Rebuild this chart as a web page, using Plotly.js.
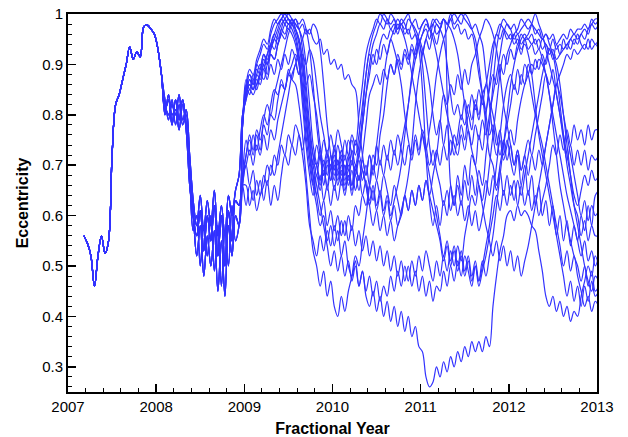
<!DOCTYPE html>
<html><head><meta charset="utf-8">
<script src="https://cdn.plot.ly/plotly-3.0.1.min.js"></script>
<style>html,body{margin:0;padding:0;background:#fff}</style>
</head><body><div id="chart" style="width:628px;height:437px"></div>
<script>
// sampling: start year and step (years)
const startYear = 2007.18, stepYear = 0.04;
const yTickVals = [0.3,0.4,0.5,0.6,0.7,0.8,0.9,1];
const yTickText = ["0.3","0.4","0.5","0.6","0.7","0.8","0.9","1"];
const xTickVals = [2007,2008,2009,2010,2011,2012,2013];

// shared early part 2007.18 .. 2008.06
const commonEarly = [0.56,0.545,0.52,0.46,0.52,0.56,0.525,0.55,0.72,0.82,0.84,0.87,0.90,0.935,0.91,0.925,0.915,0.975,0.978,0.97,0.96,0.93,0.88];
// 2008.10 .. 2008.98 variants
const midA = [0.81,0.83,0.78,0.83,0.79,0.83,0.78,0.70,0.60,0.56,0.61,0.53,0.60,0.55,0.62,0.52,0.60,0.50,0.61,0.55,0.63,0.62,0.78];
const midB = [0.83,0.79,0.83,0.78,0.82,0.78,0.80,0.68,0.57,0.60,0.50,0.58,0.52,0.60,0.49,0.58,0.46,0.57,0.50,0.62,0.55,0.58,0.68];
const midC = [0.80,0.84,0.80,0.81,0.77,0.82,0.77,0.66,0.60,0.52,0.58,0.48,0.56,0.50,0.57,0.45,0.55,0.44,0.58,0.52,0.60,0.58,0.66];
const midD = [0.82,0.80,0.82,0.80,0.84,0.79,0.81,0.72,0.63,0.58,0.64,0.57,0.63,0.58,0.65,0.56,0.62,0.56,0.64,0.60,0.65,0.68,0.80];
// 2009.02 .. 2013.02
const late1 = [0.84,0.86,0.85,0.88,0.87,0.90,0.88,0.92,0.91,0.94,0.96,0.98,0.99,0.98,0.97,0.95,0.90,0.82,0.76,0.72,0.70,0.73,0.68,0.72,0.69,0.74,0.70,0.73,0.68,0.72,0.70,0.75,0.72,0.78,0.84,0.90,0.94,0.96,0.98,0.97,0.99,0.97,0.98,0.96,0.98,0.97,0.99,0.98,0.96,0.93,0.85,0.72,0.63,0.58,0.62,0.58,0.63,0.60,0.66,0.62,0.68,0.64,0.70,0.66,0.72,0.70,0.76,0.73,0.80,0.86,0.92,0.96,0.95,0.97,0.96,0.95,0.96,0.94,0.96,0.95,0.95,0.94,0.95,0.93,0.95,0.94,0.93,0.95,0.93,0.94,0.93,0.94,0.93,0.95,0.94,0.96,0.95,0.97,0.98,0.99,0.99];
const late2 = [0.83,0.87,0.86,0.89,0.88,0.91,0.90,0.93,0.95,0.94,0.97,0.99,0.98,0.99,0.98,0.97,0.98,0.96,0.97,0.95,0.94,0.95,0.92,0.93,0.90,0.91,0.89,0.90,0.87,0.88,0.86,0.85,0.78,0.72,0.68,0.72,0.68,0.74,0.80,0.87,0.92,0.95,0.97,0.99,0.98,0.99,1.00,0.98,0.99,0.97,0.98,0.99,0.97,0.98,0.96,0.97,0.99,0.98,0.99,0.97,0.98,0.96,0.97,0.95,0.96,0.93,0.88,0.84,0.80,0.76,0.78,0.74,0.77,0.72,0.75,0.71,0.68,0.72,0.66,0.70,0.64,0.68,0.62,0.66,0.60,0.63,0.58,0.62,0.56,0.60,0.55,0.59,0.54,0.58,0.55,0.60,0.57,0.62,0.58,0.64,0.65];
const late3 = [0.72,0.75,0.72,0.76,0.73,0.78,0.76,0.80,0.79,0.83,0.86,0.85,0.88,0.87,0.86,0.82,0.76,0.68,0.60,0.53,0.50,0.46,0.49,0.44,0.47,0.42,0.40,0.44,0.41,0.45,0.48,0.52,0.50,0.55,0.60,0.66,0.72,0.70,0.76,0.80,0.86,0.90,0.88,0.92,0.90,0.93,0.91,0.94,0.92,0.95,0.93,0.90,0.86,0.80,0.76,0.79,0.74,0.78,0.72,0.76,0.74,0.78,0.75,0.80,0.77,0.82,0.79,0.84,0.86,0.90,0.94,0.96,0.98,0.97,0.95,0.96,0.94,0.95,0.93,0.94,0.92,0.88,0.82,0.76,0.72,0.68,0.64,0.60,0.56,0.52,0.48,0.44,0.47,0.43,0.46,0.42,0.46,0.43,0.47,0.44,0.45];
const late4 = [0.70,0.73,0.70,0.74,0.72,0.76,0.73,0.77,0.75,0.79,0.82,0.85,0.88,0.90,0.92,0.90,0.86,0.80,0.72,0.66,0.62,0.58,0.60,0.55,0.58,0.54,0.57,0.52,0.55,0.50,0.48,0.51,0.46,0.49,0.44,0.42,0.45,0.41,0.44,0.40,0.43,0.39,0.42,0.38,0.41,0.37,0.40,0.36,0.38,0.34,0.33,0.28,0.26,0.27,0.30,0.28,0.31,0.29,0.32,0.30,0.33,0.31,0.34,0.32,0.35,0.33,0.35,0.33,0.36,0.34,0.42,0.48,0.53,0.56,0.60,0.61,0.59,0.62,0.60,0.61,0.60,0.58,0.57,0.53,0.49,0.44,0.42,0.44,0.41,0.43,0.40,0.42,0.39,0.41,0.40,0.44,0.47,0.50,0.48,0.52,0.50];
const late5 = [0.66,0.62,0.65,0.61,0.64,0.66,0.70,0.68,0.72,0.70,0.74,0.72,0.76,0.74,0.78,0.76,0.72,0.66,0.58,0.55,0.52,0.56,0.53,0.57,0.54,0.58,0.55,0.59,0.56,0.60,0.57,0.62,0.60,0.64,0.62,0.66,0.63,0.67,0.64,0.68,0.65,0.62,0.66,0.63,0.60,0.64,0.61,0.65,0.62,0.66,0.63,0.67,0.64,0.68,0.72,0.78,0.84,0.82,0.86,0.84,0.88,0.85,0.89,0.86,0.90,0.92,0.95,0.97,0.99,0.98,0.96,0.93,0.88,0.82,0.78,0.74,0.70,0.73,0.69,0.72,0.68,0.72,0.69,0.73,0.70,0.74,0.78,0.82,0.86,0.88,0.90,0.92,0.91,0.93,0.92,0.93,0.94,0.93,0.95,0.94,0.95];
const late6 = [0.86,0.84,0.87,0.85,0.88,0.90,0.92,0.94,0.93,0.96,0.98,0.99,1.00,0.99,0.98,0.97,0.93,0.86,0.78,0.72,0.68,0.72,0.66,0.70,0.67,0.71,0.67,0.70,0.66,0.69,0.66,0.70,0.67,0.71,0.68,0.72,0.69,0.74,0.70,0.74,0.71,0.75,0.72,0.76,0.73,0.70,0.74,0.71,0.75,0.72,0.76,0.73,0.77,0.82,0.88,0.92,0.95,0.97,0.99,1.00,0.99,0.98,1.00,0.99,0.97,0.95,0.90,0.84,0.78,0.72,0.70,0.66,0.69,0.64,0.68,0.64,0.67,0.62,0.66,0.62,0.65,0.61,0.64,0.60,0.63,0.66,0.70,0.74,0.72,0.76,0.73,0.77,0.74,0.78,0.75,0.77,0.74,0.78,0.75,0.77,0.77];
const late7 = [0.85,0.88,0.86,0.90,0.89,0.92,0.91,0.94,0.96,0.95,0.97,0.96,0.98,0.97,0.95,0.91,0.84,0.76,0.70,0.66,0.70,0.67,0.71,0.68,0.72,0.69,0.74,0.71,0.75,0.72,0.76,0.74,0.80,0.86,0.92,0.95,0.97,0.99,0.98,1.00,0.99,0.98,0.99,0.97,0.98,0.96,0.97,0.95,0.96,0.94,0.96,0.97,0.95,0.98,0.99,0.98,0.99,0.84,0.66,0.62,0.66,0.62,0.67,0.63,0.68,0.64,0.69,0.66,0.72,0.78,0.86,0.93,0.97,0.99,0.98,0.97,0.98,0.96,0.97,0.98,0.99,0.98,0.97,0.96,0.95,0.96,0.95,0.96,0.94,0.95,0.96,0.95,0.97,0.96,0.97,0.97,0.98,0.97,0.99,0.98,0.99];
const late8 = [0.84,0.86,0.85,0.87,0.86,0.89,0.87,0.90,0.88,0.91,0.89,0.92,0.90,0.93,0.91,0.88,0.90,0.86,0.88,0.84,0.80,0.74,0.70,0.73,0.69,0.72,0.68,0.71,0.67,0.70,0.66,0.70,0.67,0.72,0.78,0.84,0.86,0.88,0.86,0.89,0.87,0.90,0.88,0.91,0.89,0.92,0.90,0.93,0.91,0.94,0.92,0.95,0.93,0.96,0.94,0.97,0.99,0.98,1.00,0.98,0.99,1.00,0.99,0.98,0.97,0.98,0.96,0.94,0.88,0.82,0.76,0.72,0.75,0.71,0.74,0.77,0.74,0.79,0.83,0.86,0.88,0.90,0.89,0.91,0.90,0.88,0.84,0.78,0.72,0.66,0.62,0.58,0.55,0.52,0.50,0.47,0.50,0.46,0.49,0.45,0.46];
const late9 = [0.70,0.66,0.69,0.64,0.67,0.63,0.67,0.62,0.66,0.63,0.68,0.72,0.70,0.74,0.72,0.76,0.73,0.77,0.74,0.70,0.66,0.62,0.58,0.54,0.50,0.53,0.49,0.52,0.48,0.51,0.47,0.50,0.46,0.49,0.45,0.48,0.44,0.47,0.43,0.46,0.44,0.48,0.45,0.49,0.46,0.50,0.47,0.51,0.48,0.52,0.49,0.53,0.50,0.47,0.51,0.48,0.52,0.49,0.53,0.50,0.54,0.51,0.56,0.60,0.64,0.62,0.66,0.63,0.67,0.64,0.68,0.65,0.70,0.74,0.78,0.82,0.86,0.84,0.88,0.86,0.90,0.88,0.91,0.89,0.92,0.90,0.93,0.91,0.94,0.92,0.95,0.93,0.95,0.94,0.96,0.94,0.93,0.95,0.93,0.94,0.93];
const late10 = [0.87,0.85,0.88,0.86,0.89,0.92,0.90,0.93,0.95,0.97,0.99,1.00,0.99,0.98,0.96,0.92,0.85,0.78,0.72,0.68,0.64,0.68,0.63,0.66,0.62,0.66,0.63,0.67,0.64,0.68,0.65,0.69,0.72,0.80,0.88,0.93,0.96,0.98,1.00,0.99,0.98,1.00,0.99,0.97,0.99,0.98,0.96,0.98,0.97,0.95,0.90,0.82,0.74,0.70,0.73,0.70,0.74,0.71,0.75,0.72,0.76,0.80,0.78,0.82,0.79,0.83,0.80,0.84,0.81,0.85,0.88,0.86,0.90,0.88,0.92,0.94,0.96,0.97,0.99,0.98,0.97,0.98,0.96,0.97,0.95,0.96,0.94,0.92,0.88,0.82,0.76,0.70,0.66,0.62,0.60,0.56,0.59,0.55,0.58,0.56,0.56];
const late11 = [0.84,0.87,0.85,0.88,0.90,0.89,0.92,0.94,0.96,0.98,0.99,0.98,0.97,0.99,0.97,0.94,0.88,0.80,0.74,0.70,0.74,0.71,0.75,0.72,0.76,0.73,0.77,0.74,0.71,0.75,0.72,0.68,0.71,0.67,0.70,0.66,0.70,0.67,0.71,0.68,0.72,0.69,0.73,0.70,0.74,0.78,0.82,0.87,0.91,0.94,0.96,0.98,0.97,0.99,0.98,0.97,0.95,0.90,0.84,0.80,0.82,0.79,0.83,0.80,0.84,0.81,0.85,0.82,0.86,0.83,0.80,0.76,0.72,0.75,0.71,0.74,0.70,0.73,0.69,0.72,0.75,0.72,0.76,0.80,0.84,0.88,0.86,0.89,0.84,0.80,0.75,0.71,0.74,0.70,0.73,0.70,0.73,0.69,0.72,0.71,0.72];
const late12 = [0.72,0.76,0.73,0.77,0.75,0.79,0.82,0.80,0.84,0.87,0.90,0.93,0.96,0.98,0.99,0.98,0.99,0.97,0.93,0.86,0.78,0.72,0.68,0.71,0.67,0.70,0.66,0.69,0.65,0.68,0.64,0.68,0.65,0.69,0.66,0.62,0.65,0.61,0.64,0.60,0.63,0.59,0.62,0.58,0.61,0.64,0.68,0.74,0.82,0.88,0.92,0.95,0.97,0.96,0.98,0.97,0.99,0.98,0.97,0.95,0.92,0.87,0.82,0.77,0.73,0.70,0.66,0.62,0.58,0.55,0.52,0.55,0.51,0.54,0.50,0.53,0.49,0.52,0.48,0.51,0.54,0.58,0.62,0.66,0.70,0.74,0.78,0.82,0.86,0.84,0.80,0.76,0.72,0.68,0.64,0.60,0.63,0.59,0.62,0.60,0.61];
const late13 = [0.85,0.88,0.87,0.90,0.92,0.94,0.93,0.96,0.98,0.99,1.00,0.99,0.98,0.99,0.97,0.95,0.91,0.84,0.76,0.68,0.64,0.60,0.63,0.58,0.61,0.57,0.60,0.56,0.59,0.55,0.58,0.54,0.57,0.53,0.56,0.52,0.55,0.51,0.54,0.50,0.53,0.49,0.52,0.48,0.51,0.47,0.50,0.46,0.49,0.45,0.48,0.44,0.47,0.43,0.46,0.45,0.49,0.46,0.50,0.47,0.51,0.48,0.52,0.49,0.46,0.50,0.47,0.51,0.48,0.52,0.56,0.62,0.68,0.74,0.80,0.86,0.90,0.93,0.95,0.96,0.95,0.96,0.94,0.95,0.93,0.94,0.92,0.93,0.91,0.92,0.93,0.94,0.95,0.96,0.95,0.96,0.97,0.96,0.98,0.97,0.98];
const late14 = [0.83,0.85,0.84,0.86,0.88,0.87,0.90,0.92,0.91,0.94,0.96,0.95,0.97,0.96,0.94,0.90,0.82,0.74,0.68,0.64,0.68,0.65,0.69,0.66,0.70,0.67,0.71,0.68,0.72,0.69,0.73,0.70,0.74,0.78,0.84,0.88,0.92,0.90,0.94,0.96,0.95,0.97,0.96,0.98,0.97,0.95,0.92,0.88,0.84,0.80,0.76,0.72,0.68,0.64,0.60,0.56,0.52,0.55,0.51,0.54,0.50,0.53,0.49,0.52,0.48,0.51,0.47,0.50,0.54,0.58,0.64,0.70,0.76,0.82,0.86,0.88,0.85,0.89,0.86,0.90,0.88,0.84,0.80,0.77,0.74,0.70,0.66,0.62,0.58,0.54,0.50,0.53,0.49,0.52,0.48,0.45,0.42,0.44,0.41,0.43,0.42];
const late15 = [0.75,0.72,0.76,0.73,0.77,0.80,0.78,0.82,0.85,0.84,0.87,0.85,0.89,0.87,0.90,0.88,0.92,0.90,0.93,0.91,0.86,0.80,0.76,0.72,0.70,0.73,0.69,0.72,0.68,0.71,0.75,0.72,0.76,0.82,0.88,0.92,0.90,0.93,0.91,0.94,0.92,0.95,0.93,0.90,0.86,0.80,0.75,0.72,0.76,0.73,0.77,0.74,0.70,0.73,0.69,0.66,0.62,0.65,0.61,0.64,0.60,0.63,0.59,0.62,0.58,0.61,0.57,0.60,0.64,0.70,0.76,0.82,0.88,0.92,0.90,0.93,0.91,0.94,0.92,0.95,0.96,0.98,1.00,0.98,0.96,0.93,0.90,0.87,0.84,0.80,0.76,0.72,0.68,0.64,0.62,0.65,0.68,0.66,0.69,0.67,0.68];
const late16 = [0.62,0.66,0.63,0.67,0.64,0.68,0.66,0.70,0.68,0.72,0.76,0.80,0.84,0.88,0.90,0.93,0.95,0.97,0.96,0.98,0.97,0.93,0.86,0.78,0.72,0.68,0.71,0.67,0.70,0.66,0.69,0.65,0.68,0.64,0.67,0.63,0.66,0.62,0.65,0.61,0.64,0.60,0.63,0.66,0.70,0.76,0.82,0.88,0.93,0.96,0.98,0.99,0.97,0.95,0.92,0.88,0.84,0.80,0.77,0.74,0.72,0.76,0.73,0.77,0.74,0.78,0.75,0.79,0.76,0.80,0.84,0.88,0.92,0.96,0.98,0.97,0.95,0.96,0.94,0.95,0.93,0.94,0.92,0.93,0.91,0.88,0.84,0.80,0.76,0.72,0.68,0.64,0.61,0.58,0.55,0.52,0.55,0.51,0.53,0.50,0.52];
const late17 = [0.86,0.89,0.88,0.91,0.93,0.95,0.94,0.97,0.99,0.98,0.99,1.00,0.99,0.98,0.99,0.97,0.95,0.90,0.82,0.74,0.70,0.66,0.70,0.65,0.69,0.65,0.69,0.66,0.70,0.67,0.71,0.68,0.72,0.69,0.66,0.62,0.58,0.61,0.57,0.60,0.56,0.59,0.55,0.58,0.60,0.64,0.61,0.65,0.62,0.66,0.63,0.67,0.64,0.61,0.58,0.55,0.51,0.54,0.50,0.53,0.49,0.52,0.48,0.51,0.47,0.50,0.46,0.49,0.52,0.56,0.60,0.64,0.61,0.65,0.62,0.66,0.63,0.67,0.64,0.68,0.72,0.76,0.80,0.84,0.88,0.91,0.93,0.92,0.90,0.86,0.80,0.74,0.68,0.62,0.58,0.54,0.50,0.47,0.45,0.48,0.47];

const seriesMid = [midA,midD,midC,midB,midC,midA,midD,midA,midC,midA,midD,midB,midA,midD,midB,midC,midA];
const seriesLate = [late1,late2,late3,late4,late5,late6,late7,late8,late9,late10,late11,late12,late13,late14,late15,late16,late17];

const traces = seriesLate.map((late, i) => ({
  type: 'scatter', mode: 'lines',
  x0: startYear, dx: stepYear,
  y: commonEarly.concat(seriesMid[i], late),
  line: {color: 'rgb(50,50,255)', width: 1.2, shape: 'spline', smoothing: 1},
  hoverinfo: 'skip', showlegend: false
}));

const font = {family: 'Liberation Sans, Arial, sans-serif', color: '#000'};
const layout = {
  width: 628, height: 437,
  margin: {l: 68, r: 31, t: 14, b: 45},
  paper_bgcolor: '#fff', plot_bgcolor: '#fff',
  showlegend: false,
  font: Object.assign({size: 15}, font),
  xaxis: {
    range: [2007, 2013], tickvals: xTickVals, ticktext: xTickVals.map(String),
    ticks: 'inside', ticklen: 8, tickwidth: 1.5, tickcolor: '#000',
    minor: {dtick: 0.2, tick0: 2007, ticks: 'inside', ticklen: 4, tickwidth: 1, tickcolor: '#000', showgrid: false},
    showline: true, linewidth: 2, linecolor: '#000', mirror: true,
    showgrid: false, zeroline: false,
    tickfont: Object.assign({size: 15}, font),
    title: {text: '<b>Fractional Year</b>', font: Object.assign({size: 16}, font), standoff: 10}
  },
  yaxis: {
    range: [0.25, 1.0], tickvals: yTickVals, ticktext: yTickText,
    ticks: 'inside', ticklen: 8, tickwidth: 1.5, tickcolor: '#000',
    minor: {dtick: 0.02, tick0: 0, ticks: 'inside', ticklen: 4, tickwidth: 1, tickcolor: '#000', showgrid: false},
    showline: true, linewidth: 2, linecolor: '#000', mirror: true,
    showgrid: false, zeroline: false,
    tickfont: Object.assign({size: 15}, font),
    title: {text: '<b>Eccentricity</b>', font: Object.assign({size: 16}, font), standoff: 10}
  }
};
Plotly.newPlot('chart', traces, layout, {staticPlot: true, displayModeBar: false});
</script></body></html>
